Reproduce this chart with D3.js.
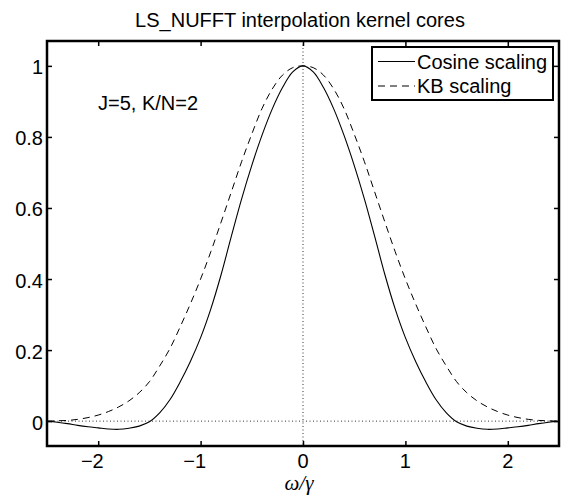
<!DOCTYPE html>
<meta charset="utf-8">
<script src="https://d3js.org/d3.v7.min.js"></script>
<style>
  body { margin: 0; background: #fff; }
  text { font-family: "Liberation Sans", Arial, Helvetica, sans-serif; fill: #000; }
</style>
<div id="chart"></div>
<script>
  // omega / gamma sample points
  var omega = [-2.5, -2.4, -2.3, -2.2, -2.1, -2.0, -1.9, -1.8, -1.7, -1.6, -1.5, -1.4, -1.3,
    -1.2, -1.1, -1.0, -0.9, -0.8, -0.7, -0.6, -0.5, -0.4, -0.3, -0.2, -0.1, 0,
    0.1, 0.2, 0.3, 0.4, 0.5, 0.6, 0.7, 0.8, 0.9, 1.0, 1.1, 1.2, 1.3, 1.4, 1.5,
    1.6, 1.7, 1.8, 1.9, 2.0, 2.1, 2.2, 2.3, 2.4, 2.5];

  // kernel core with cosine scaling (solid)
  var cosineCore = [0, -0.003, -0.007, -0.012, -0.016, -0.019, -0.022, -0.023, -0.020, -0.014,
    -0.002, 0.023, 0.060, 0.110, 0.168, 0.235, 0.316, 0.412, 0.520, 0.625, 0.720, 0.805,
    0.879, 0.939, 0.983, 1,
    0.983, 0.939, 0.879, 0.805, 0.720, 0.625, 0.520, 0.412, 0.316, 0.235, 0.168, 0.110,
    0.060, 0.023, -0.002, -0.014, -0.020, -0.023, -0.022, -0.019, -0.016, -0.012, -0.007,
    -0.003, 0];

  // kernel core with KB scaling (dashed)
  var kbCore = [0, 0.001, 0.002, 0.005, 0.010, 0.017, 0.027, 0.040, 0.057, 0.080, 0.111,
    0.155, 0.204, 0.265, 0.330, 0.400, 0.477, 0.560, 0.645, 0.730, 0.808, 0.880, 0.935,
    0.974, 0.995, 1,
    0.995, 0.974, 0.935, 0.880, 0.808, 0.730, 0.645, 0.560, 0.477, 0.400, 0.330, 0.265,
    0.204, 0.155, 0.111, 0.080, 0.057, 0.040, 0.027, 0.017, 0.010, 0.005, 0.002, 0.001, 0];

  var xTicks = [-2, -1, 0, 1, 2];
  var yTicks = [0, 0.2, 0.4, 0.6, 0.8, 1];
  var legendNames = ["Cosine scaling", "KB scaling"];

  var margin = { top: 41, right: 7, bottom: 53, left: 47 },
    width = 566 - margin.left - margin.right,
    height = 499 - margin.top - margin.bottom;

  var svg = d3.select("#chart")
    .append("svg")
    .attr("width", 566)
    .attr("height", 499)
    .append("g")
    .attr("transform", "translate(" + margin.left + "," + margin.top + ")");

  var x = d3.scaleLinear().domain([-2.5, 2.5]).range([0, width]);
  var y = d3.scaleLinear().domain([-0.07, 1.07]).range([height, 0]);

  // dotted zero lines
  svg.append("line")
    .attr("x1", 0).attr("x2", width)
    .attr("y1", y(0)).attr("y2", y(0))
    .attr("stroke", "#333").attr("stroke-width", 1)
    .attr("stroke-dasharray", "1,2.5");
  svg.append("line")
    .attr("x1", x(0)).attr("x2", x(0))
    .attr("y1", 0).attr("y2", height)
    .attr("stroke", "#333").attr("stroke-width", 1)
    .attr("stroke-dasharray", "1,2.5");

  var line = d3.line()
    .x(function (d, i) { return x(omega[i]); })
    .y(function (d) { return y(d); })
    .curve(d3.curveCatmullRom);

  svg.append("path")
    .datum(kbCore)
    .attr("d", line)
    .attr("fill", "none")
    .attr("stroke", "#000")
    .attr("stroke-width", 1)
    .attr("stroke-dasharray", "7,5");

  svg.append("path")
    .datum(cosineCore)
    .attr("d", line)
    .attr("fill", "none")
    .attr("stroke", "#000")
    .attr("stroke-width", 1.1);

  // axes: ticks inside on all four sides, labels drawn separately
  var tickLen = 5;
  svg.append("g")
    .attr("transform", "translate(0," + height + ")")
    .call(d3.axisBottom(x).tickValues(xTicks).tickSize(-tickLen).tickFormat(""));
  svg.append("g")
    .call(d3.axisTop(x).tickValues(xTicks).tickSize(-tickLen).tickFormat(""));
  svg.append("g")
    .call(d3.axisLeft(y).tickValues(yTicks).tickSize(-tickLen).tickFormat(""));
  svg.append("g")
    .attr("transform", "translate(" + width + ",0)")
    .call(d3.axisRight(y).tickValues(yTicks).tickSize(-tickLen).tickFormat(""));
  svg.selectAll(".domain").remove();
  svg.selectAll(".tick line").attr("stroke", "#000").attr("stroke-width", 1.5);

  // box
  svg.append("rect")
    .attr("x", 0).attr("y", 0)
    .attr("width", width).attr("height", height)
    .attr("fill", "none")
    .attr("stroke", "#000")
    .attr("stroke-width", 2.5);

  // tick labels (minus sign hangs left of the digit, as in matlab)
  svg.selectAll(".xlab")
    .data(xTicks)
    .enter()
    .append("text")
    .attr("class", "xlab")
    .attr("x", function (d) { return x(d) + (d < 0 ? 5.5 : 0); })
    .attr("y", height + 22)
    .style("text-anchor", function (d) { return d < 0 ? "end" : "middle"; })
    .style("font-size", "20px")
    .text(function (d) { return d < 0 ? "\u2212" + Math.abs(d) : d; });

  svg.selectAll(".ylab")
    .data(yTicks)
    .enter()
    .append("text")
    .attr("class", "ylab")
    .attr("x", -4)
    .attr("y", function (d) { return y(d) + 8.5; })
    .style("text-anchor", "end")
    .style("font-size", "20px")
    .text(function (d) { return d; });

  // title and labels
  svg.append("text")
    .attr("x", width / 2 - 3)
    .attr("y", 26.5 - margin.top)
    .style("text-anchor", "middle")
    .style("font-size", "20px")
    .text("LS_NUFFT interpolation kernel cores");

  svg.append("text")
    .attr("x", width / 2 - 4)
    .attr("y", 490 - margin.top)
    .style("text-anchor", "middle")
    .style("font-size", "21px")
    .style("font-family", "'Liberation Serif', 'DejaVu Serif', serif")
    .style("font-style", "italic")
    .text("\u03c9/\u03b3");

  svg.append("text")
    .attr("x", 98 - margin.left)
    .attr("y", 110 - margin.top)
    .style("font-size", "20px")
    .text("J=5, K/N=2");

  // legend
  var legend = svg.append("g")
    .attr("transform", "translate(" + (372 - margin.left) + "," + (47 - margin.top) + ")");
  legend.append("rect")
    .attr("width", 181).attr("height", 53)
    .attr("fill", "#fff")
    .attr("stroke", "#000")
    .attr("stroke-width", 2);
  legend.selectAll(".lline")
    .data(legendNames)
    .enter()
    .append("line")
    .attr("x1", 6).attr("x2", 43)
    .attr("y1", function (d, i) { return 14.5 + i * 24.5; })
    .attr("y2", function (d, i) { return 14.5 + i * 24.5; })
    .attr("stroke", "#000")
    .attr("stroke-width", 1)
    .attr("stroke-dasharray", function (d, i) { return i == 0 ? null : "7,5"; });
  legend.selectAll(".ltext")
    .data(legendNames)
    .enter()
    .append("text")
    .attr("x", 45)
    .attr("y", function (d, i) { return 21.5 + i * 24.5; })
    .style("font-size", "20px")
    .text(function (d) { return d; });
</script>
